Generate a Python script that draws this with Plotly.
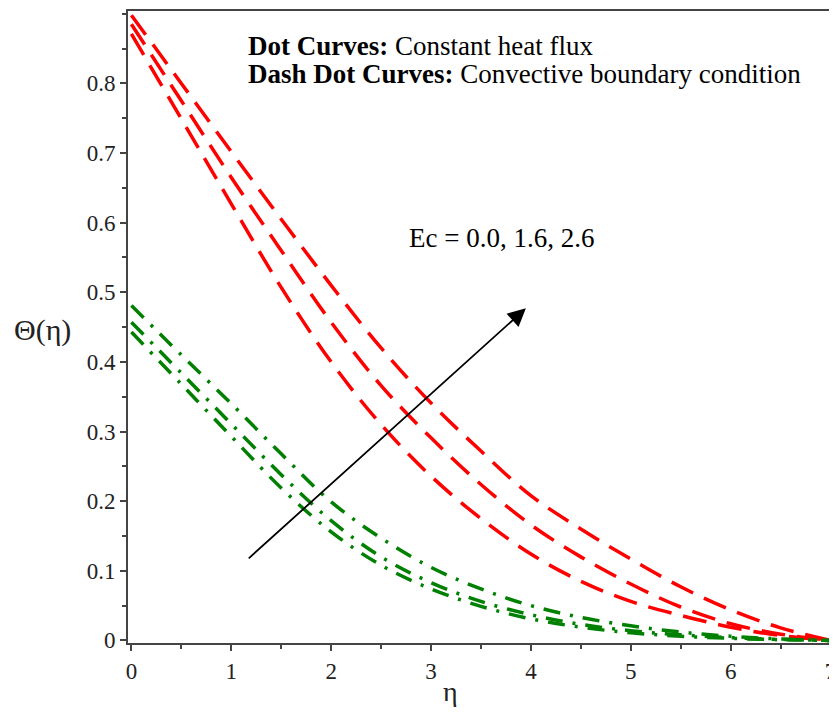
import plotly.graph_objects as go

eta = [0, 0.5, 1, 1.5, 2, 2.5, 3, 3.5, 4, 4.5, 5, 5.5, 6, 6.5, 7]

# Constant heat flux (red dashed), Ec = 0.0, 1.6, 2.6
red_ec00 = [0.871, 0.749, 0.627, 0.507, 0.400, 0.310, 0.236, 0.175, 0.124, 0.085, 0.056, 0.036, 0.019, 0.007, 0.0]
red_ec16 = [0.885, 0.775, 0.665, 0.560, 0.457, 0.366, 0.291, 0.224, 0.166, 0.120, 0.081, 0.048, 0.024, 0.009, 0.0]
red_ec26 = [0.898, 0.800, 0.702, 0.605, 0.510, 0.420, 0.341, 0.272, 0.208, 0.160, 0.117, 0.077, 0.044, 0.018, 0.0]

# Convective boundary condition (green dash-dot), Ec = 0.0, 1.6, 2.6
green_ec00 = [0.443, 0.368, 0.293, 0.219, 0.156, 0.108, 0.074, 0.049, 0.031, 0.019, 0.011, 0.006, 0.003, 0.001, 0.0]
green_ec16 = [0.457, 0.384, 0.311, 0.238, 0.172, 0.120, 0.083, 0.056, 0.037, 0.023, 0.014, 0.008, 0.004, 0.0015, 0.0]
green_ec26 = [0.481, 0.410, 0.340, 0.268, 0.199, 0.147, 0.105, 0.074, 0.050, 0.033, 0.021, 0.012, 0.006, 0.002, 0.0]

x_ticks = [0, 1, 2, 3, 4, 5, 6, 7]
y_ticks = [0, 0.1, 0.2, 0.3, 0.4, 0.5, 0.6, 0.7, 0.8]
y_tick_text = ["0", "0.1", "0.2", "0.3", "0.4", "0.5", "0.6", "0.7", "0.8"]

RED = "#ff0000"
GREEN = "#008000"
SERIF = "Liberation Serif, Times New Roman, serif"

# page body has an 8px margin: figure placed at (8, 8)
OFF = 8
W, H = 829, 704
L, T = 128 - OFF, 10 - OFF
PW, PH = 708, 633
R = W - L - PW
B = H - T - PH


def px(xp):
    return (xp - OFF - L) / PW


def py(yp):
    return (OFF + T + PH - yp) / PH


fig = go.Figure()
for ys in (red_ec00, red_ec16, red_ec26):
    fig.add_trace(go.Scatter(x=eta, y=ys, mode="lines", line_shape="spline",
                             line=dict(color=RED, width=3.5, dash="24px,12px"),
                             showlegend=False, hoverinfo="skip"))
for ys in (green_ec00, green_ec16, green_ec26):
    fig.add_trace(go.Scatter(x=eta, y=ys, mode="lines", line_shape="spline",
                             line=dict(color=GREEN, width=3.5, dash="17px,10px,3px,10px"),
                             showlegend=False, hoverinfo="skip"))

axis_common = dict(
    showgrid=False, zeroline=False, showline=True, linecolor="#444444", linewidth=2,
    ticks="outside", ticklen=6, tickwidth=1.5, tickcolor="#444444",
    tickfont=dict(family=SERIF, size=23, color="#222222"),
    ticklabeloverflow="allow",
)
fig.update_xaxes(range=[-0.034, 7.025], tickvals=x_ticks, mirror=True,
                 minor=dict(dtick=0.5, ticks="outside", ticklen=4, tickcolor="#444444", tickwidth=1.5),
                 **axis_common)
fig.update_yaxes(range=[-0.0037, 0.904], tickvals=y_ticks, ticktext=y_tick_text,
                 minor=dict(dtick=0.05, ticks="outside", ticklen=4, tickcolor="#444444", tickwidth=1.5),
                 **axis_common)

fig.add_annotation(x=3.95, y=0.477, ax=1.16, ay=0.116, xref="x", yref="y", axref="x", ayref="y",
                   text="", showarrow=True, arrowhead=2, arrowsize=2.0, arrowwidth=1.8, arrowcolor="black")

fig.add_annotation(xref="paper", yref="paper", x=px(247), y=py(45),
                   xanchor="left", yanchor="middle", showarrow=False,
                   text="<b>Dot Curves:</b> Constant heat flux",
                   font=dict(family=SERIF, size=27, color="black"))
fig.add_annotation(xref="paper", yref="paper", x=px(247), y=py(73),
                   xanchor="left", yanchor="middle", showarrow=False,
                   text="<b>Dash Dot Curves:</b> Convective boundary condition",
                   font=dict(family=SERIF, size=27, color="black"))
fig.add_annotation(xref="paper", yref="paper", x=px(408), y=py(237),
                   xanchor="left", yanchor="middle", showarrow=False,
                   text="Ec = 0.0, 1.6, 2.6",
                   font=dict(family=SERIF, size=27, color="black"))
fig.add_annotation(xref="paper", yref="paper", x=px(452), y=py(692),
                   xanchor="center", yanchor="middle", showarrow=False,
                   text="η", font=dict(family=SERIF, size=28, color="#222222"))
fig.add_annotation(xref="paper", yref="paper", x=px(42), y=py(330),
                   xanchor="center", yanchor="middle", showarrow=False,
                   text="Θ(η)", font=dict(family=SERIF, size=30, color="#222222"))

fig.update_layout(width=W, height=H, margin=dict(l=L, r=R, t=T, b=B),
                  plot_bgcolor="white", paper_bgcolor="white")

fig.write_html("out.html")
